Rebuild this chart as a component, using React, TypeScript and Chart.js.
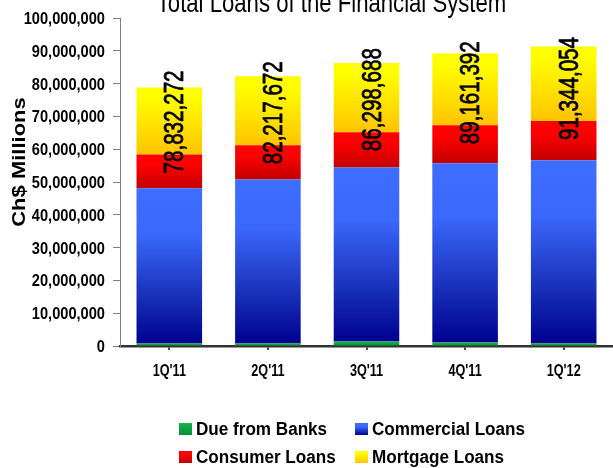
import { useEffect, useRef } from 'react';
import { Chart, registerables } from 'chart.js';

Chart.register(...registerables);

const categories = ["1Q'11", "2Q'11", "3Q'11", "4Q'11", "1Q'12"];
const dueFromBanks = [800000, 800000, 1400000, 1100000, 800000];
const commercialLoans = [47300000, 50000000, 53000000, 54600000, 55800000];
const consumerLoans = [10300000, 10400000, 10800000, 11600000, 12000000];
const mortgageLoans = [20432272, 21017672, 21098688, 21861392, 22744054];
const totals = [78832272, 82217672, 86298688, 89161392, 91344054];
const yTicks = [0, 10000000, 20000000, 30000000, 40000000, 50000000, 60000000, 70000000, 80000000, 90000000, 100000000];
const seriesNames = ['Due from Banks', 'Commercial Loans', 'Consumer Loans', 'Mortgage Loans'];
const titleText = 'Total Loans of the Financial System';
const yTitle = 'Ch$ Millions';

const FONT = '"Liberation Sans", Arial, Helvetica, sans-serif';

type Stops = [number, string][];
const palettes: { solid: string; stops: Stops }[] = [
  { solid: '#00A040', stops: [[0, '#1DB04C'], [1, '#009038']] },
  { solid: '#3B6AFC', stops: [[0, '#3E6EFF'], [0.3, '#3A68FA'], [0.75, '#1428B0'], [1, '#000090']] },
  { solid: '#FF0000', stops: [[0, '#FF0000'], [0.3, '#FF0000'], [1, '#C20000']] },
  { solid: '#FFFF00', stops: [[0, '#FFFF00'], [0.15, '#FFFF00'], [1, '#FFC400']] },
];

function drawText(
  ctx: CanvasRenderingContext2D,
  s: string,
  x: number,
  y: number,
  o: { size: number; bold?: boolean; sx?: number; sy?: number; rot?: number; align?: CanvasTextAlign; base?: CanvasTextBaseline; color?: string; stroke?: number }
) {
  ctx.save();
  ctx.translate(x, y);
  if (o.rot) ctx.rotate(o.rot);
  ctx.scale(o.sx ?? 1, o.sy ?? 1);
  ctx.font = `${o.bold ? 'bold ' : ''}${o.size}px ${FONT}`;
  ctx.textAlign = o.align ?? 'left';
  ctx.textBaseline = o.base ?? 'alphabetic';
  ctx.fillStyle = o.color ?? '#000000';
  ctx.fillText(s, 0, 0);
  if (o.stroke) {
    ctx.strokeStyle = o.color ?? '#000000';
    ctx.lineWidth = o.stroke;
    ctx.lineJoin = 'round';
    ctx.strokeText(s, 0, 0);
  }
  ctx.restore();
}

function makeBg(di: number) {
  return (c: any) => {
    const chart = c.chart;
    const pal = palettes[di];
    const ys = chart.scales && chart.scales.y;
    if (!ys || c.type !== 'data') return pal.solid;
    const i = c.dataIndex;
    let start = 0;
    for (let k = 0; k < di; k++) start += chart.data.datasets[k].data[i];
    const end = start + chart.data.datasets[di].data[i];
    const top = ys.getPixelForValue(end);
    const bot = ys.getPixelForValue(start);
    if (!isFinite(top) || !isFinite(bot) || bot - top < 1) return pal.solid;
    const g = chart.ctx.createLinearGradient(0, top, 0, bot);
    pal.stops.forEach(([p, col]) => g.addColorStop(p, col));
    return g;
  };
}

const textPlugin = {
  id: 'customText',
  afterDatasetsDraw(chart: any) {
    const ctx = chart.ctx as CanvasRenderingContext2D;
    const meta = chart.getDatasetMeta(3);
    meta.data.forEach((el: any, i: number) => {
      drawText(ctx, totals[i].toLocaleString('en-US'), el.x + 14, el.base + 19, {
        size: 28, sx: 0.735, rot: -Math.PI / 2, align: 'left', stroke: 0.8,
      });
    });
  },
  afterDraw(chart: any) {
    const ctx = chart.ctx as CanvasRenderingContext2D;
    const ys = chart.scales.y;
    const xs = chart.scales.x;
    // title
    drawText(ctx, titleText, 331.5, 12, { size: 27, sx: 0.82, align: 'center' });
    // y tick labels
    yTicks.forEach((v) => {
      drawText(ctx, v.toLocaleString('en-US'), 105, ys.getPixelForValue(v) + 6, { size: 17, bold: true, sx: 0.86, align: 'right' });
    });
    // y title
    drawText(ctx, yTitle, 25, 162, { size: 22, bold: true, sx: 1.0, sy: 0.81, rot: -Math.PI / 2, align: 'center' });
    // x labels
    categories.forEach((c, i) => {
      drawText(ctx, c, xs.getPixelForValue(i), 376, { size: 16, bold: true, sx: 0.79, align: 'center' });
    });
    // legend
    const items = [
      { di: 0, x: 179, y: 423 },
      { di: 1, x: 355, y: 423 },
      { di: 2, x: 179, y: 451 },
      { di: 3, x: 355, y: 451 },
    ];
    items.forEach((it) => {
      const pal = palettes[it.di];
      const g = ctx.createLinearGradient(0, it.y, 0, it.y + 12);
      pal.stops.forEach(([p, col]) => g.addColorStop(p, col));
      ctx.fillStyle = g;
      ctx.fillRect(it.x, it.y, 13, 12);
      drawText(ctx, chart.data.datasets[it.di].label, it.x + 17, it.y + 12, { size: 18, bold: true, sx: 0.95 });
    });
  },
};

export default function App() {
  const ref = useRef<HTMLCanvasElement>(null);
  useEffect(() => {
    if (!ref.current) return;
    const seriesData = [dueFromBanks, commercialLoans, consumerLoans, mortgageLoans];
    const chart = new Chart(ref.current, {
      type: 'bar',
      data: {
        labels: categories,
        datasets: seriesData.map((d, di) => ({
          label: seriesNames[di],
          data: d,
          backgroundColor: makeBg(di),
          borderWidth: 0,
          barPercentage: 0.665,
          categoryPercentage: 1,
        })),
      },
      options: {
        responsive: false,
        devicePixelRatio: 1,
        animation: false,
        layout: { padding: { top: 18, bottom: 82, left: 0, right: -3 } },
        plugins: { legend: { display: false }, title: { display: false }, tooltip: { enabled: false } },
        scales: {
          x: {
            stacked: true,
            ticks: { display: false },
            grid: { drawOnChartArea: false, drawTicks: true, tickLength: 4, offset: false, color: '#444444', lineWidth: 2 },
            border: { display: true, color: '#333333', width: 2.5 },
            afterFit: (s: any) => { s.height = 40; },
          },
          y: {
            stacked: true,
            min: 0,
            max: 100000000,
            ticks: { display: false, stepSize: 10000000 },
            grid: { drawOnChartArea: false, drawTicks: true, tickLength: 7, color: '#808080', lineWidth: 1 },
            border: { display: true, color: '#808080', width: 1 },
            afterFit: (s: any) => { s.width = 120; },
          },
        },
      },
      plugins: [textPlugin],
    });
    return () => chart.destroy();
  }, []);
  return (
    <div style={{ position: 'absolute', left: 0, top: 0, width: 613, height: 468, overflow: 'hidden', background: '#ffffff' }}>
      <canvas ref={ref} width={613} height={468} style={{ display: 'block' }} />
    </div>
  );
}
